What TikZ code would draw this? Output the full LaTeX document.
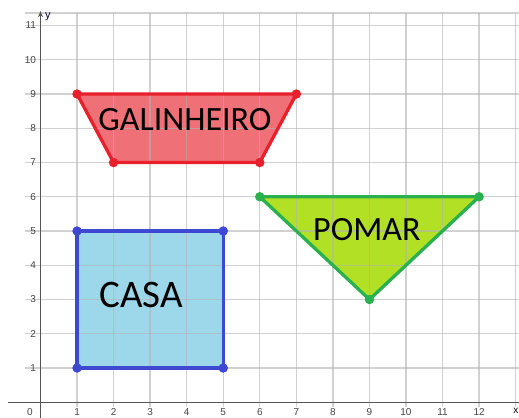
\documentclass[tikz,border=0pt]{standalone}
\usepackage{fontspec}
\usetikzlibrary{arrows.meta}
\setmainfont{Carlito}
\newfontfamily\axfont{Liberation Sans}
\definecolor{galfill}{HTML}{F07078}
\definecolor{galline}{HTML}{E8202C}
\definecolor{pomfill}{HTML}{B2E024}
\definecolor{pomline}{HTML}{2AB04E}
\definecolor{casfill}{HTML}{9CD8EA}
\definecolor{casline}{HTML}{3E48D2}
\definecolor{axc}{HTML}{555555}
\definecolor{tickc}{HTML}{444444}
\tikzset{
  gridline/.style={draw=gray!60,opacity=0.6,line width=1.4pt},
  axisline/.style={draw=axc,line width=1.5pt},
  polyline/.style={line width=3.3pt,line join=round},
  vdot/.style={circle,inner sep=0pt,minimum size=9.5pt,fill=#1},
  ticklab/.style={font=\axfont\fontsize{10}{10}\selectfont,text=tickc,inner sep=0pt},
  bigtext/.style={text=black,inner sep=0pt}
}
\begin{document}
\begin{tikzpicture}[x=36.55pt,y=34.25pt]
\useasboundingbox (-1.108,-0.4307) rectangle (13.092,11.745);
% vertices
\coordinate (g1) at (1,9); \coordinate (g2) at (7,9);
\coordinate (g3) at (6,7); \coordinate (g4) at (2,7);
\coordinate (p1) at (6,6); \coordinate (p2) at (12,6); \coordinate (p3) at (9,3);
\coordinate (c1) at (1,1); \coordinate (c2) at (5,1);
\coordinate (c3) at (5,5); \coordinate (c4) at (1,5);
% fills
\fill[galfill] (g1)--(g2)--(g3)--(g4)--cycle;
\fill[pomfill] (p1)--(p2)--(p3)--cycle;
\fill[casfill] (c1)--(c2)--(c3)--(c4)--cycle;
% grid
\foreach \i in {1,...,13} \draw[gridline] (\i,-0.14) -- (\i,11.36);
\foreach \j in {1,...,11} \draw[gridline] (-0.42,\j) -- (13.2,\j);
\draw[gridline] (-0.42,11.36) -- (13.2,11.36);
% axes
\coordinate (xs) at (-0.89,0); \coordinate (xe) at (13.2,0);
\coordinate (ys) at (0,-0.5); \coordinate (ye) at (0,11.42);
\draw[axisline] (xs) -- (xe);
\draw[axisline,-{Stealth[length=6pt,width=5pt]}] (ys) -- (ye);
\node[font=\axfont\fontsize{11}{11}\selectfont,text=black!80!blue,anchor=west,inner sep=0pt] (ylab) at (0.12,11.26) {y};
\node[font=\axfont\fontsize{10}{10}\selectfont,anchor=east,inner sep=0pt] (xlab) at (13.08,-0.24) {x};
% tick labels
\node[ticklab] (x0) at (-0.29,-0.28) {0};
\foreach \i in {1,...,12} \node[ticklab] (x\i) at (\i,-0.28) {\i};
\foreach \j in {1,...,11} \node[ticklab,anchor=east] (y\j) at (-0.12,\j) {\j};
% outlines
\draw[polyline,galline] (g1)--(g2)--(g3)--(g4)--cycle;
\draw[polyline,pomline] (p1)--(p2)--(p3)--cycle;
\draw[polyline,casline] (c1)--(c2)--(c3)--(c4)--cycle;
\foreach \v in {g1,g2,g3,g4} \node[vdot=galline] (d\v) at (\v) {};
\foreach \v in {p1,p2,p3} \node[vdot=pomline] (d\v) at (\v) {};
\foreach \v in {c1,c2,c3,c4} \node[vdot=casline] (d\v) at (\v) {};
% labels
\node[bigtext,font=\fontsize{34}{34}\selectfont] (gal) at (3.95,8.24) {GALINHEIRO};
\node[bigtext,font=\fontsize{34}{34}\selectfont] (pom) at (8.93,5.03) {POMAR};
\node[bigtext,font=\fontsize{39}{39}\selectfont] (cas) at (2.76,3.14) {CASA};
\end{tikzpicture}
\end{document}
